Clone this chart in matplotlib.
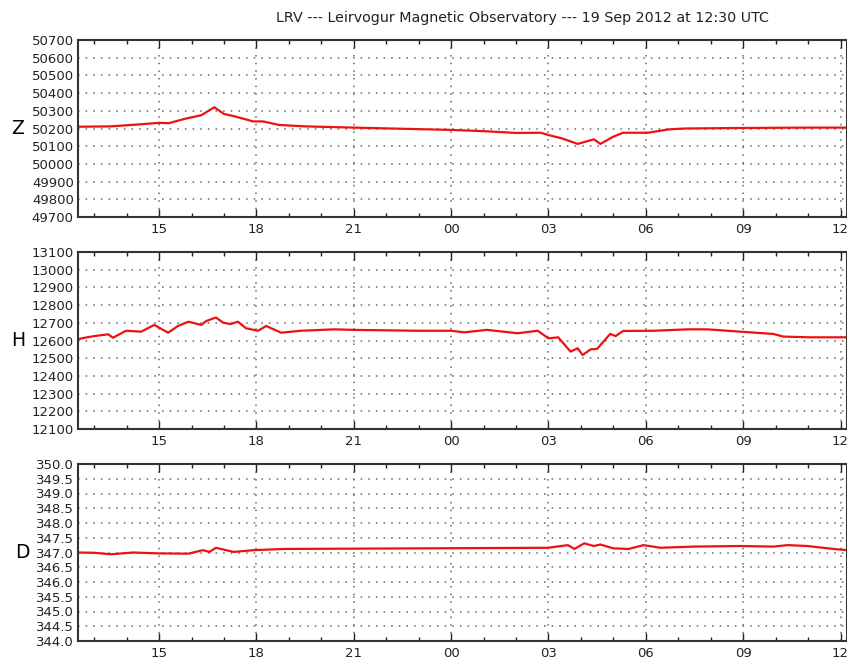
import matplotlib
matplotlib.use('Agg')
from matplotlib import pyplot as plt
from matplotlib.ticker import MultipleLocator, FuncFormatter

# time in hours from 00:00 on 18 Sep 2012
z_t = [12.5, 13.5, 14.3, 15.0, 15.3, 15.8, 16.3, 16.7, 17.0, 17.3, 17.9, 18.2, 18.7, 19.5,
       21.0, 24.0, 25.0, 25.5, 26.0, 26.76, 27.0, 27.4, 27.7, 27.9, 28.4, 28.6, 29.0, 29.3,
       30.06, 30.7, 31.2, 33.0, 35.0, 36.2]
z_v = [50210, 50212, 50222, 50232, 50230, 50255, 50275, 50320, 50282, 50270, 50240, 50240, 50220,
       50212, 50205, 50192, 50185, 50180, 50175, 50176, 50163, 50145, 50126, 50113, 50139,
       50113, 50154, 50176, 50176, 50195, 50200, 50203, 50205, 50205]

h_t = [12.5, 12.6, 13.0, 13.43, 13.58, 13.98, 14.45, 14.85, 15.28, 15.58, 15.9, 16.3, 16.45,
       16.75, 16.97, 17.2, 17.43, 17.68, 18.05, 18.3, 18.76, 19.37, 20.39, 21.0, 22.97, 24.0,
       24.4, 25.1, 26.05, 26.67, 27.0, 27.3, 27.68, 27.9, 28.05, 28.3, 28.5, 28.9, 29.07,
       29.3, 30.24, 31.28, 31.9, 32.9, 33.93, 34.24, 35.07, 36.2]
h_v = [12605, 12612, 12625, 12635, 12616, 12655, 12650, 12688, 12644, 12682, 12706, 12688, 12710,
       12730, 12701, 12693, 12706, 12669, 12655, 12682, 12644, 12655, 12663, 12660, 12655, 12655,
       12646, 12660, 12641, 12655, 12612, 12618, 12537, 12556, 12518, 12550, 12553, 12637, 12625,
       12654, 12655, 12663, 12663, 12650, 12637, 12622, 12618, 12618]

d_t = [12.5, 13.0, 13.52, 14.2, 14.97, 15.9, 16.35, 16.55, 16.75, 17.3, 17.93, 18.85, 22.97,
       26.98, 27.6, 27.8, 28.1, 28.4, 28.6, 29.0, 29.47, 29.93, 30.45, 31.47, 32.92, 33.93,
       34.37, 34.98, 35.78, 36.2]
d_v = [347.0, 346.99, 346.94, 347.0, 346.97, 346.96, 347.08, 347.02, 347.16, 347.02, 347.08, 347.12,
       347.14, 347.16, 347.25, 347.12, 347.31, 347.22, 347.27, 347.14, 347.12, 347.25, 347.16,
       347.2, 347.22, 347.2, 347.25, 347.22, 347.12, 347.08]

panels = [
    ('Z', z_t, z_v, (49700, 50700), 100, '%d'),
    ('H', h_t, h_v, (12100, 13100), 100, '%d'),
    ('D', d_t, d_v, (344.0, 350.0), 0.5, '%.1f'),
]

title = 'LRV --- Leirvogur Magnetic Observatory --- 19 Sep 2012 at 12:30 UTC'

fig = plt.figure(figsize=(8.47, 6.61), dpi=100)
left = 78 / 847.0
width = 1.0 - left
height = 177 / 661.0
tops = [40, 252, 464]

for (name, t, v, ylim, step, fmt), top in zip(panels, tops):
    bottom = 1.0 - (top + 177) / 661.0
    ax = fig.add_axes([left, bottom, width, height])
    ax.plot(t, v, color='#ee1111', lw=1.6)
    ax.set_xlim(12.5, 36.2)
    ax.set_ylim(*ylim)
    ax.xaxis.set_major_locator(MultipleLocator(3))
    ax.xaxis.set_minor_locator(MultipleLocator(1))
    ax.xaxis.set_major_formatter(FuncFormatter(lambda x, p: '%02d' % (int(round(x)) % 24)))
    ax.yaxis.set_major_locator(MultipleLocator(step))
    ax.yaxis.set_major_formatter(FuncFormatter(lambda y, p, f=fmt: f % y))
    ax.tick_params(axis='x', which='both', direction='in', top=True, bottom=True,
                   labelsize=9.5, pad=4, colors='#222222')
    ax.tick_params(axis='x', which='major', length=6, width=1)
    ax.tick_params(axis='x', which='minor', length=3, width=1)
    ax.tick_params(axis='y', which='both', length=0, labelsize=9.5, pad=3, colors='#222222')
    ax.grid(True, which='major', linestyle=(0, (1, 4)), color='#666666', lw=1.1)
    for s in ax.spines.values():
        s.set_linewidth(1.5)
        s.set_color('#333333')
    ax.set_ylabel(name, rotation=0, fontsize=13.5, labelpad=10, va='center')

fig.text(522 / 847.0, 1.0 - 18 / 661.0, title, ha='center', va='center', fontsize=10.3, color='#222222')

fig.savefig('out.png', dpi=100)
